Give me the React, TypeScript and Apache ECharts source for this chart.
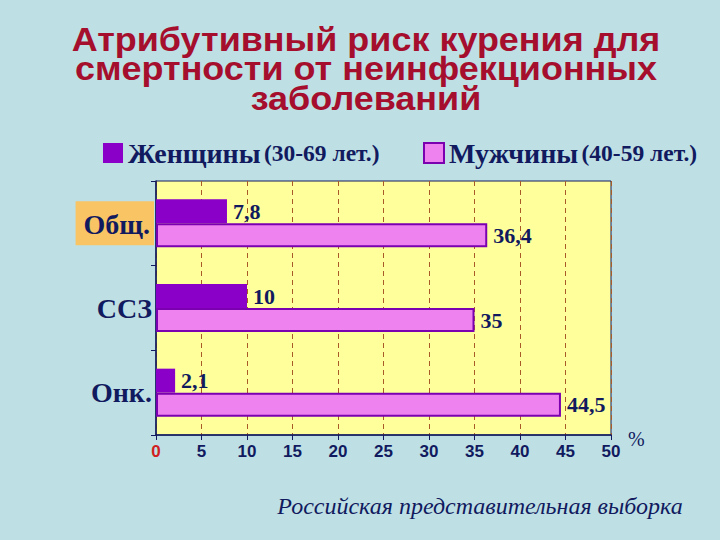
import React, { useEffect, useRef } from "react";
import * as echarts from "echarts";

const categories = ["Общ.", "ССЗ", "Онк."];
const seriesNames = ["Женщины (30-69 лет.)", "Мужчины (40-59 лет.)"];
const women = [7.8, 10, 2.1];
const men = [36.4, 35, 44.5];
const xMin = 0;
const xMax = 50;
const xStep = 5;
const titleLines = ["Атрибутивный риск курения для", "смертности от неинфекционных", "заболеваний"];
const footText = "Российская представительная выборка";
const unitText = "%";

const NAVY = "#111A5E";
const PURPLE = "#8A00C8";
const PINK = "#EE82EE";
const BORDER = "#7A00B0";

export default function App() {
  const ref = useRef<HTMLDivElement>(null);
  useEffect(() => {
    if (!ref.current) return;
    const chart = echarts.init(ref.current, null, { renderer: "svg" });
    const legendFmt = (name: string) => {
      const i = name.indexOf(" (");
      return `{a|${name.slice(0, i)}} {b|${name.slice(i + 1)}}`;
    };
    const legendText = {
      rich: {
        a: { fontFamily: "Liberation Serif", fontWeight: "bold", fontSize: 28, color: NAVY },
        b: { fontFamily: "Liberation Serif", fontWeight: "bold", fontSize: 23.5, color: NAVY },
      },
    };
    const valueLabel = {
      show: true,
      position: "right",
      distance: 6,
      fontFamily: "Liberation Serif",
      fontWeight: "bold",
      fontSize: 22,
      color: NAVY,
      formatter: (p: any) => String(p.value).replace(".", ","),
    };
    const titleGraphics = titleLines.map((t, i) => ({
      type: "text",
      x: 366,
      y: 25 + i * 29.5,
      scaleX: 1.09,
      style: {
        text: t,
        textAlign: "center",
        fontFamily: "Liberation Sans",
        fontWeight: "bold",
        fontSize: 33,
        lineHeight: 29,
        fill: "#A50F2D",
      },
    }));
    chart.setOption({
      animation: false,
      backgroundColor: "#BEE0E5",
      grid: {
        left: 156,
        top: 181,
        width: 455,
        height: 254,
        show: true,
        backgroundColor: "#FFFF9C",
        borderColor: NAVY,
        borderWidth: 1,
        containLabel: false,
      },
      legend: [
        {
          data: [seriesNames[0]],
          left: 98,
          top: 134,
          icon: "rect",
          itemWidth: 20,
          itemHeight: 20,
          itemGap: 8,
          formatter: legendFmt,
          textStyle: legendText,
          selectedMode: false,
        },
        {
          data: [seriesNames[1]],
          left: 418,
          top: 134,
          icon: "rect",
          itemWidth: 20,
          itemHeight: 20,
          itemGap: 8,
          formatter: legendFmt,
          textStyle: legendText,
          selectedMode: false,
        },
      ],
      xAxis: {
        type: "value",
        min: xMin,
        max: xMax,
        interval: xStep,
        axisLine: { show: true, lineStyle: { color: NAVY, width: 1.5 } },
        axisTick: { show: true, length: 5, lineStyle: { color: NAVY } },
        splitLine: { show: true, lineStyle: { color: "#A85A28", type: [5, 4], width: 1 } },
        axisLabel: {
          margin: 8,
          fontFamily: "Liberation Sans",
          fontWeight: "bold",
          fontSize: 17,
          color: (v: any) => (Number(v) === 0 ? "#D02020" : NAVY),
        },
      },
      yAxis: {
        type: "category",
        inverse: true,
        data: categories,
        axisLine: { show: true, lineStyle: { color: NAVY, width: 1.5 } },
        axisTick: { show: true, length: 5, lineStyle: { color: NAVY } },
        axisLabel: {
          margin: 2,
          formatter: (v: string, i: number) => (i === 0 ? `{hl|${v}}` : `{n|${v}}`),
          rich: {
            hl: {
              fontFamily: "Liberation Serif",
              fontWeight: "bold",
              fontSize: 28,
              color: NAVY,
              backgroundColor: "#F8C464",
              padding: [9, 4, 7, 8],
            },
            n: {
              fontFamily: "Liberation Serif",
              fontWeight: "bold",
              fontSize: 28,
              color: NAVY,
              padding: [0, 2, 0, 0],
            },
          },
        },
      },
      series: [
        {
          name: seriesNames[0],
          type: "bar",
          data: women,
          barWidth: 24,
          barGap: "0%",
          itemStyle: { color: PURPLE },
          label: valueLabel,
        },
        {
          name: seriesNames[1],
          type: "bar",
          data: men,
          barWidth: 24,
          barGap: "0%",
          itemStyle: { color: PINK, borderColor: BORDER, borderWidth: 2 },
          label: valueLabel,
        },
      ],
      graphic: [
        ...titleGraphics,
        {
          type: "text",
          x: 628,
          y: 429,
          style: {
            text: unitText,
            fontFamily: "Liberation Serif",
            fontSize: 20,
            fill: NAVY,
          },
        },
        {
          type: "text",
          x: 480,
          y: 494,
          style: {
            text: footText,
            textAlign: "center",
            fontFamily: "Liberation Serif",
            fontStyle: "italic",
            fontSize: 24,
            fill: NAVY,
          },
        },
      ],
    });
    return () => chart.dispose();
  }, []);
  return (
    <div
      ref={ref}
      style={{ position: "fixed", left: 0, top: 0, width: 720, height: 540, background: "#BEE0E5" }}
    />
  );
}
